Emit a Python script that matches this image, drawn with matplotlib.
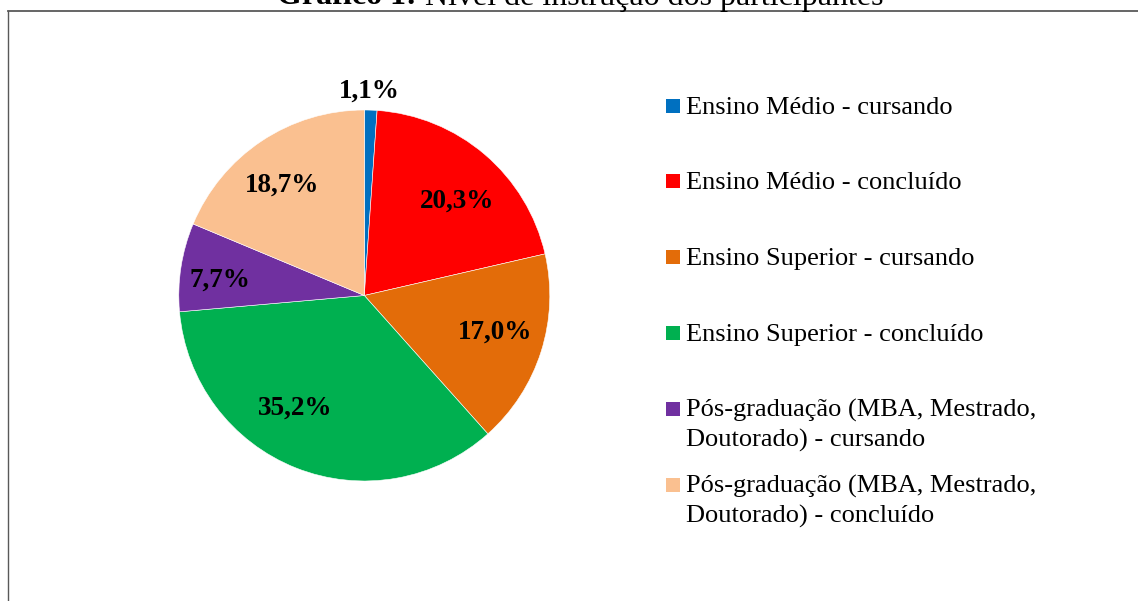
import numpy as np
import matplotlib.pyplot as plt
from matplotlib.patches import Rectangle
from matplotlib.lines import Line2D

# Data
categories = [
    "Ensino Médio - cursando",
    "Ensino Médio - concluído",
    "Ensino Superior - cursando",
    "Ensino Superior - concluído",
    "Pós-graduação (MBA, Mestrado,\nDoutorado) - cursando",
    "Pós-graduação (MBA, Mestrado,\nDoutorado) - concluído",
]
percentages = [1.1, 20.3, 17.0, 35.2, 7.7, 18.7]
colors = ["#0070C0", "#FF0000", "#E36C09", "#00B050", "#7030A0", "#FAC090"]

# label placement (radius fraction, angle shift in degrees)
label_dist = [1.10, 0.714, 0.731, 0.712, 0.782, 0.744]
label_shift = [0.7, -4.0, 2.1, -10.0, 2.7, 3.1]

plt.rcParams['font.family'] = ['Liberation Serif', 'DejaVu Serif']

W, H = 1138, 601
fig = plt.figure(figsize=(W / 100, H / 100), dpi=100)
renderer = fig.canvas.get_renderer()

# frame of the chart area (left + top, runs off the page)
fig.add_artist(Line2D([7.5 / W, 7.5 / W], [0, 1 - 10.7 / H], transform=fig.transFigure,
                      color="#595959", lw=1.0))
fig.add_artist(Line2D([7.5 / W, 1], [1 - 10.7 / H, 1 - 10.7 / H], transform=fig.transFigure,
                      color="#595959", lw=1.3))

# title, mostly cut at the top edge (bold prefix + regular rest)
t1 = fig.text(0, 0, "Gráfico 1:", fontsize=23, fontweight="bold", va="baseline")
t2 = fig.text(0, 0, " Nível de instrução dos participantes", fontsize=23, va="baseline")
w1 = t1.get_window_extent(renderer).width
w2 = t2.get_window_extent(renderer).width
x0 = 580 - (w1 + w2) / 2
ty = 1 - 4.5 / H
t1.set_position((x0 / W, ty))
t2.set_position(((x0 + w1) / W, ty))

# pie
cx, cy, r = 364.3, 601 - 295.5, 185.5
ax = fig.add_axes([(cx - r) / W, (cy - r) / H, 2 * r / W, 2 * r / H])
wedges, _ = ax.pie(percentages, colors=colors, startangle=90, counterclock=False,
                   wedgeprops=dict(linewidth=0.4, edgecolor="white"))
ax.set_xlim(-1, 1)
ax.set_ylim(-1, 1)
ax.set_aspect("equal")
ax.axis("off")

for w, v, d, s in zip(wedges, percentages, label_dist, label_shift):
    ang = np.deg2rad((w.theta1 + w.theta2) / 2 + s)
    ax.text(d * np.cos(ang), d * np.sin(ang), f"{v:.1f}%".replace(".", ","),
            fontsize=19.5, fontweight="bold", ha="center", va="center")

# legend drawn by hand to keep Excel-like spacing
lx, ly0, step, line_h = 666, 105.5, 75.8, 30
for i, (lab, col) in enumerate(zip(categories, colors)):
    yc = ly0 + i * step
    fig.add_artist(Rectangle((lx / W, 1 - (yc + 7) / H), 14 / W, 14 / H,
                             transform=fig.transFigure, facecolor=col, edgecolor="none"))
    for j, line in enumerate(lab.split("\n")):
        fig.text(686 / W, 1 - (yc + 8 + j * line_h) / H, line, fontsize=19,
                 ha="left", va="baseline")

fig.savefig("out.png", dpi=100)
